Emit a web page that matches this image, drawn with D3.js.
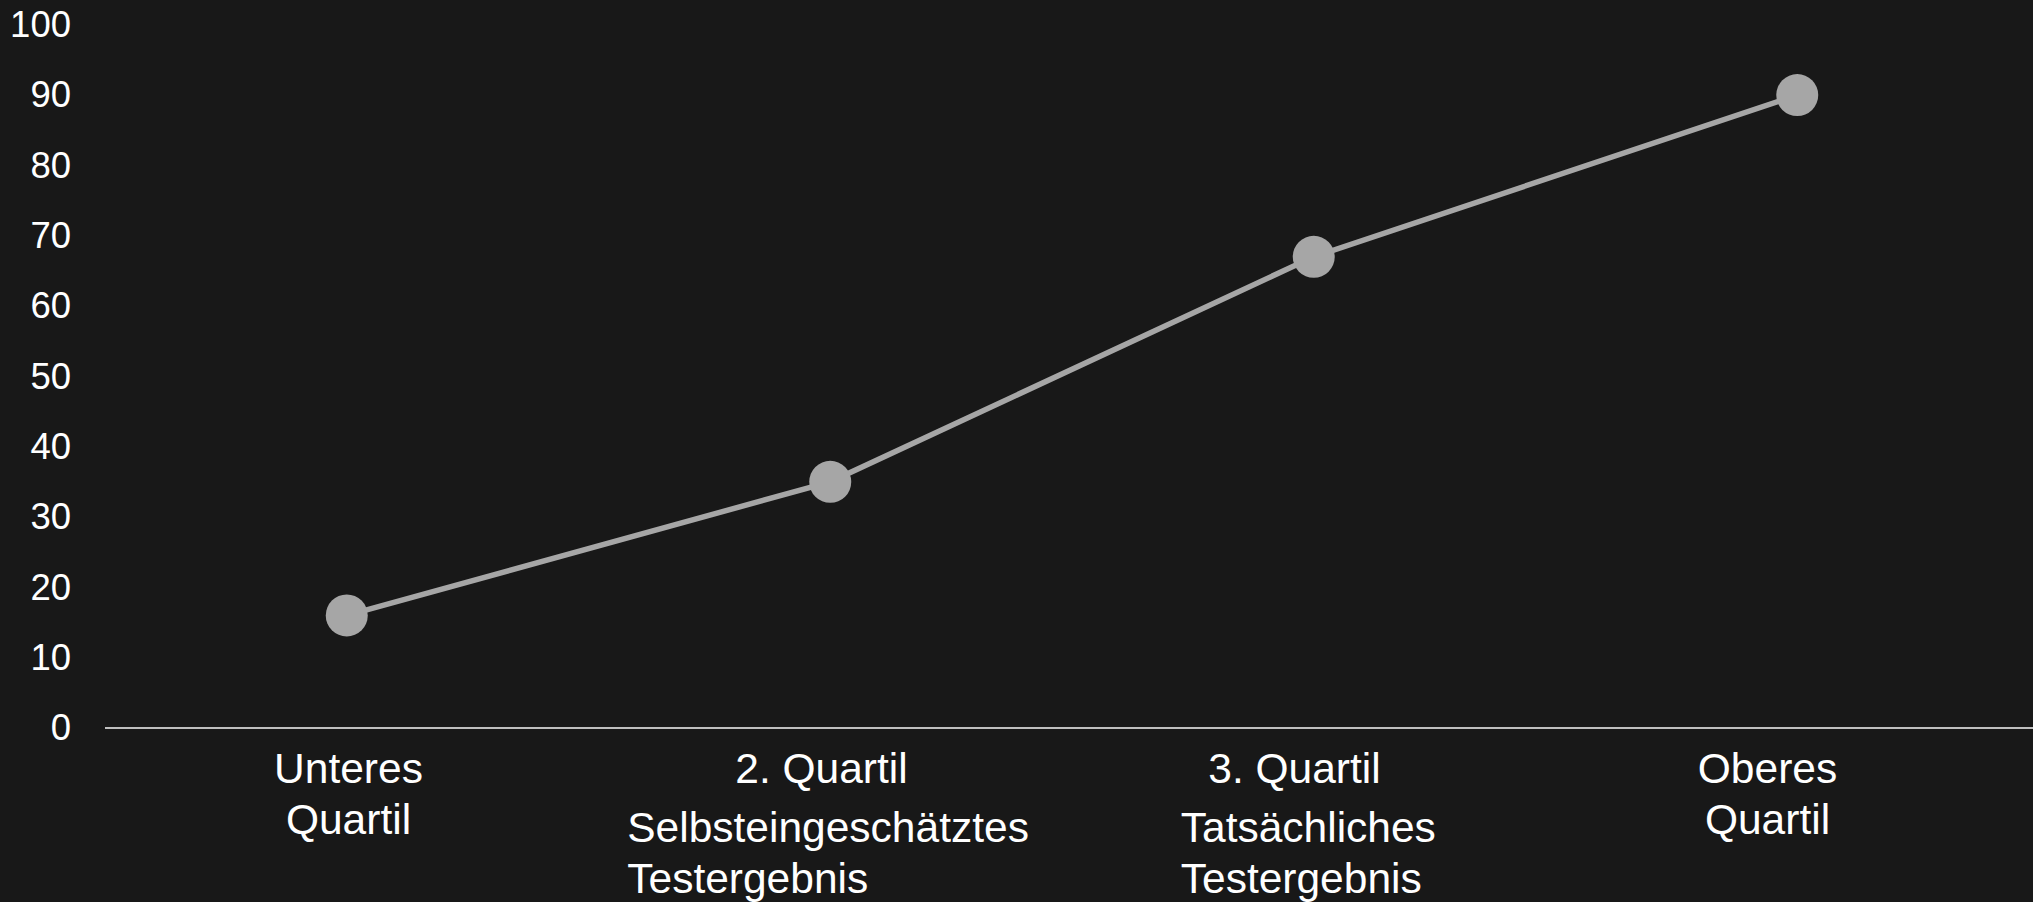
<!DOCTYPE html>
<html><head><meta charset="utf-8">
<script src="https://cdn.jsdelivr.net/npm/d3@7"></script>
<style>
html,body{margin:0;padding:0;background:#181818;}
svg{display:block;font-family:"Liberation Sans",Arial,sans-serif;}
</style></head>
<body><svg id="c" width="2033" height="902"></svg>
<script>
// data
const categories = ["Unteres Quartil", "2. Quartil", "3. Quartil", "Oberes Quartil"];
const categoryLines = [["Unteres", "Quartil"], ["2. Quartil"], ["3. Quartil"], ["Oberes", "Quartil"]];
const values = [16, 35, 67, 90];
const yTicks = [0, 10, 20, 30, 40, 50, 60, 70, 80, 90, 100];
const noteLines = [["Selbsteingeschätztes", "Testergebnis"], ["Tatsächliches", "Testergebnis"]];
const noteCategory = ["2. Quartil", "3. Quartil"];

const W = 2033, H = 902;
const svg = d3.select("#c");
svg.append("rect").attr("width", W).attr("height", H).attr("fill", "#181818");

const x = d3.scaleBand().domain(categories).range([105, 2039]);
const xLab = d3.scaleBand().domain(categories).range([112, 2004]);
const y = d3.scaleLinear().domain([0, 100]).range([728, 24.7]);

// y axis labels
const ya = svg.append("g").attr("transform", "translate(105,0)")
  .call(d3.axisLeft(y).tickValues(yTicks).tickSize(0).tickPadding(34).tickFormat(d3.format("d")));
ya.select(".domain").remove();
ya.selectAll("text").attr("fill", "#ffffff").style("font-size", "36.5px")
  .style("font-family", "'Liberation Sans',Arial,sans-serif");

// x axis line
svg.append("line").attr("x1", 105).attr("x2", W).attr("y1", y(0)).attr("y2", y(0))
  .attr("stroke", "#bfbfbf").attr("stroke-width", 2);

// x labels
categories.forEach((c, i) => {
  const t = svg.append("text").attr("text-anchor", "middle").attr("fill", "#ffffff")
    .style("font-size", "42.5px");
  categoryLines[i].forEach((ln, j) => {
    t.append("tspan").attr("x", xLab(c) + xLab.bandwidth() / 2).attr("y", 783 + j * 51).text(ln);
  });
});

// notes below
const noteOffset = [-203, -133];
noteLines.forEach((lines, i) => {
  const cx = x(noteCategory[i]) + x.bandwidth() / 2 + noteOffset[i];
  const t = svg.append("text").attr("fill", "#ffffff").style("font-size", "42.5px");
  lines.forEach((ln, j) => t.append("tspan").attr("x", cx).attr("y", 842 + j * 51).text(ln));
});

// line
const pts = categories.map((c, i) => [x(c) + x.bandwidth() / 2, y(values[i])]);
svg.append("path").attr("d", d3.line()(pts)).attr("fill", "none")
  .attr("stroke", "#a6a6a6").attr("stroke-width", 5.5);
svg.selectAll("circle.m").data(pts).enter().append("circle").attr("class", "m")
  .attr("cx", d => d[0]).attr("cy", d => d[1]).attr("r", 21).attr("fill", "#a6a6a6");
</script></body></html>
